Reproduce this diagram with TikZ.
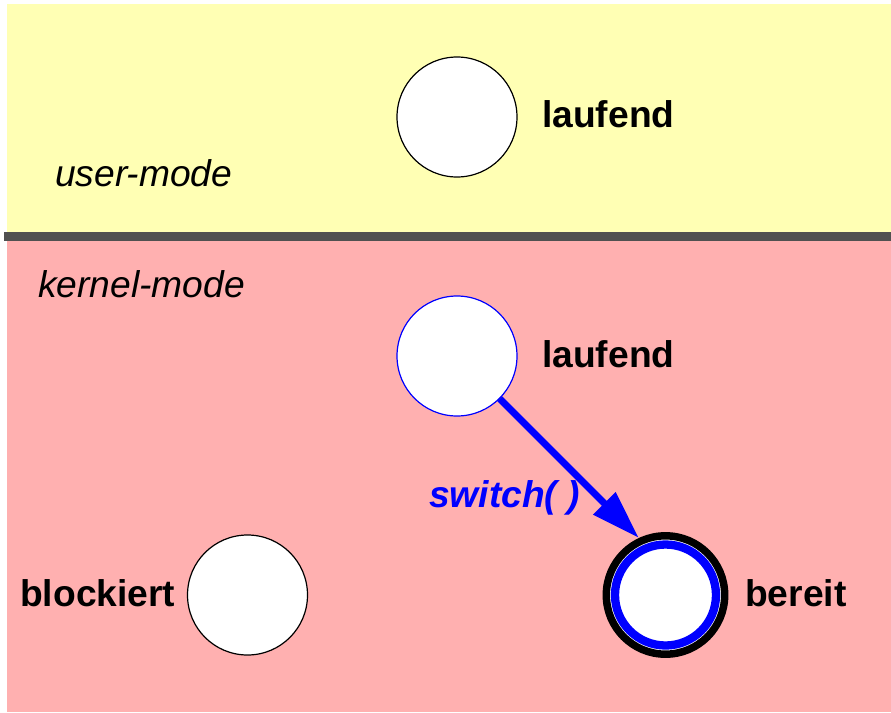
\documentclass[tikz,border=0pt]{standalone}
\usepackage{fontspec}
\setmainfont{Liberation Sans}
\usetikzlibrary{arrows.meta}
\definecolor{usergelb}{RGB}{255,255,180}
\definecolor{kernelrot}{RGB}{255,176,176}
\definecolor{grenzgrau}{RGB}{80,80,80}

\begin{document}
\begin{tikzpicture}[x=1pt,y=-1pt,
    zustand/.style={circle,draw,fill=white,minimum size=120pt,inner sep=0pt,line width=1.2pt},
    beschr/.style={font=\fontsize{37.2}{40}\selectfont\bfseries,inner sep=0pt,anchor=base west},
    modus/.style={font=\fontsize{37.2}{40}\selectfont\itshape,inner sep=0pt,anchor=base west}]
  \useasboundingbox (0,0) rectangle (891,712);
  \fill[usergelb] (7,4) rectangle (891,236);
  \fill[kernelrot] (7,236) rectangle (891,712);
  \draw[grenzgrau,line width=9pt] (4,236.5) -- (891,236.5);

  \node[modus] (user) at (55,186) {user-mode};
  \node[modus] (kernel) at (38,297) {kernel-mode};

  \node[zustand] (lauf1) at (457,117) {};
  \node[beschr] (lauf1txt) at (542,127) {laufend};

  \node[zustand,draw=blue] (lauf2) at (457,356) {};
  \node[beschr] (lauf2txt) at (542,367) {laufend};

  \node[zustand] (block) at (247.5,595) {};
  \node[beschr] (blocktxt) at (20,606) {blockiert};

  \node[zustand,minimum size=118.4pt,line width=7.5pt] (rdy) at (665.5,595) {};
  \draw[blue,line width=8.3pt] (rdy.center) circle[radius=50.5];
  \node[beschr] (rdytxt) at (745,606) {bereit};

  \draw[blue,line width=7pt,-{Triangle[length=49pt,width=30pt]}] (lauf2.-45) -- (rdy.115);
  \node[beschr,blue,font=\fontsize{37.2}{40}\selectfont\bfseries\itshape] (sw) at (429,507) {switch( )};
\end{tikzpicture}
\end{document}
